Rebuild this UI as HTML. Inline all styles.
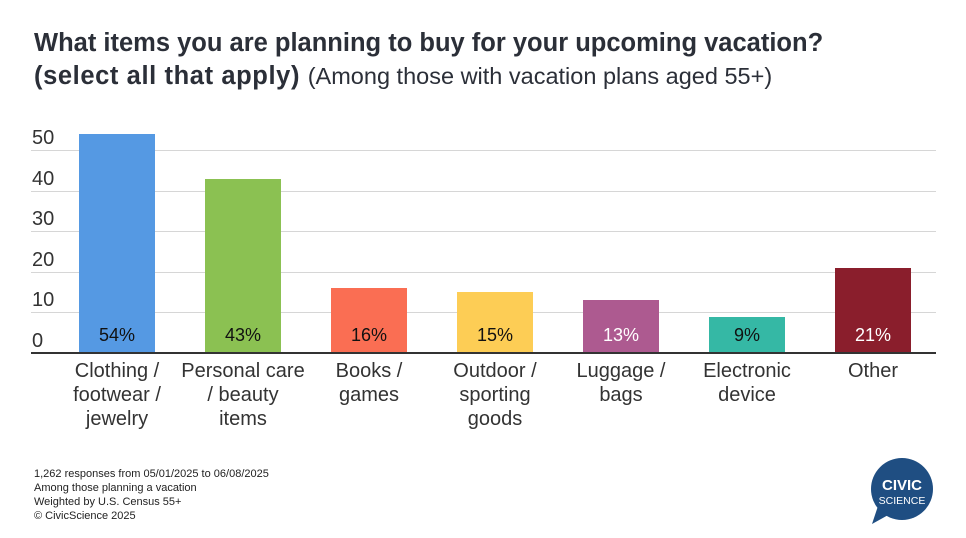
<!DOCTYPE html>
<html><head><style>
body{margin:0;width:966px;height:538px;background:#fff;font-family:"Liberation Sans",sans-serif;overflow:hidden;position:relative}
.t{position:absolute;left:34px;color:#2b2f38;font-weight:bold;font-size:25.5px;line-height:32px;white-space:nowrap}
.g{position:absolute;left:31px;width:905px;height:1px;background:#d6d6d6}
.yl{position:absolute;left:32px;font-size:20px;color:#333;line-height:20px}
.b{position:absolute;width:76px}
.v{position:absolute;width:76px;text-align:center;font-size:18px;top:325px}
.c{position:absolute;width:136px;text-align:center;font-size:20px;line-height:24px;color:#333;top:359px}
.f{position:absolute;left:34px;font-size:11px;color:#222;line-height:14px;top:467px}
</style></head><body>
<div class="t" style="top:27px">What items you are planning to buy for your upcoming vacation?</div>
<div class="t" style="top:60px;letter-spacing:0.6px">(select all that apply) <span style="font-weight:normal;font-size:23.5px;letter-spacing:0">(Among those with vacation plans aged 55+)</span></div>
<div class="g" style="top:150px"></div><div class="g" style="top:191px"></div><div class="g" style="top:231px"></div><div class="g" style="top:272px"></div><div class="g" style="top:312px"></div>
<div class="yl" style="top:128px">50</div><div class="yl" style="top:169px">40</div><div class="yl" style="top:209px">30</div><div class="yl" style="top:250px">20</div><div class="yl" style="top:290px">10</div><div class="yl" style="top:331px">0</div>
<div class="b" style="left:79px;top:134px;height:219px;background:#5599e3"></div>
<div class="b" style="left:205px;top:179px;height:174px;background:#8bc152"></div>
<div class="b" style="left:331px;top:288px;height:65px;background:#fa6e53"></div>
<div class="b" style="left:457px;top:292px;height:61px;background:#fdcd55"></div>
<div class="b" style="left:583px;top:300px;height:53px;background:#ad5a90"></div>
<div class="b" style="left:709px;top:317px;height:36px;background:#35b8a5"></div>
<div class="b" style="left:835px;top:268px;height:85px;background:#8a1e2c"></div>
<div class="v" style="left:79px;color:#111">54%</div>
<div class="v" style="left:205px;color:#111">43%</div>
<div class="v" style="left:331px;color:#111">16%</div>
<div class="v" style="left:457px;color:#111">15%</div>
<div class="v" style="left:583px;color:#fff">13%</div>
<div class="v" style="left:709px;color:#111">9%</div>
<div class="v" style="left:835px;color:#fff">21%</div>
<div style="position:absolute;left:31px;top:352px;width:905px;height:2px;background:#333"></div>
<div class="c" style="left:49px">Clothing /<br>footwear /<br>jewelry</div>
<div class="c" style="left:175px">Personal care<br>/ beauty<br>items</div>
<div class="c" style="left:301px">Books /<br>games</div>
<div class="c" style="left:427px">Outdoor /<br>sporting<br>goods</div>
<div class="c" style="left:553px">Luggage /<br>bags</div>
<div class="c" style="left:679px">Electronic<br>device</div>
<div class="c" style="left:805px">Other</div>
<div class="f">1,262 responses from 05/01/2025 to 06/08/2025<br>Among those planning a vacation<br>Weighted by U.S. Census 55+<br>© CivicScience 2025</div>
<svg style="position:absolute;left:866px;top:456px" width="70" height="70" viewBox="0 0 70 70">
<circle cx="36" cy="33" r="31" fill="#1f4e82"/>
<path d="M12 50 L6 68 L24 58 Z" fill="#1f4e82"/>
<text x="36" y="34" text-anchor="middle" font-family="Liberation Sans" font-weight="bold" font-size="15" fill="#fff">CIVIC</text>
<text x="36" y="48" text-anchor="middle" font-family="Liberation Sans" font-size="10.5" fill="#fff">SCIENCE</text>
</svg>
</body></html>
